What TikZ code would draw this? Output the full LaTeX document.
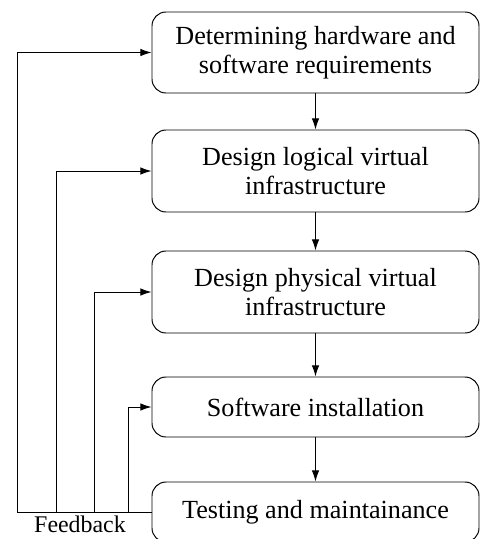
\documentclass[tikz,border=0pt]{standalone}
\usepackage{fontspec}
\setmainfont{Liberation Serif}
\usetikzlibrary{shapes, positioning, arrows.meta}

\begin{document}
\begin{tikzpicture}[
  stage/.style={draw, rounded corners=0.35cm, minimum width=8.175cm, align=center,
    font=\fontsize{18.6}{21}\selectfont, line width=0.7pt},
  flow/.style={-{Latex[length=2.8mm,width=1.9mm]}, line width=0.7pt}
]

% Page size
\clip (0,0) rectangle (12,-13.475);

% Draw the stages
\node[stage, minimum height=2.025cm] (req) at (7.8875,-1.3125) {Determining hardware and\\software requirements};
\node[stage, minimum height=2.05cm] (logical) at (7.8875,-4.275) {Design logical virtual\\infrastructure};
\node[stage, minimum height=2.05cm] (physical) at (7.8875,-7.3) {Design physical virtual\\infrastructure};
\node[stage, minimum height=1.5cm] (install) at (7.8875,-10.175) {Software installation};
\node[stage, minimum height=1.5cm] (testing) at (7.8875,-12.8) {Testing and maintainance};

% Arrows between stages
\draw[flow] (req) -- (logical);
\draw[flow] (logical) -- (physical);
\draw[flow] (physical) -- (install);
\draw[flow] (install) -- (testing);

% Feedback lines
\coordinate (fb1) at (0.425,-12.8);
\coordinate (fb2) at (1.4,-12.8);
\coordinate (fb3) at (2.35,-12.8);
\coordinate (fb4) at (3.2,-12.8);

\draw[flow] (testing.west) -- (fb1) |- (req.west);
\draw[flow] (fb2) |- (logical.west);
\draw[flow] (fb3) |- (physical.west);
\draw[flow] (fb4) |- (install.west);

\node[font=\fontsize{17}{20}\selectfont, inner sep=0pt, anchor=south] (feedback) at (2.0,-13.32) {Feedback};

\end{tikzpicture}
\end{document}
